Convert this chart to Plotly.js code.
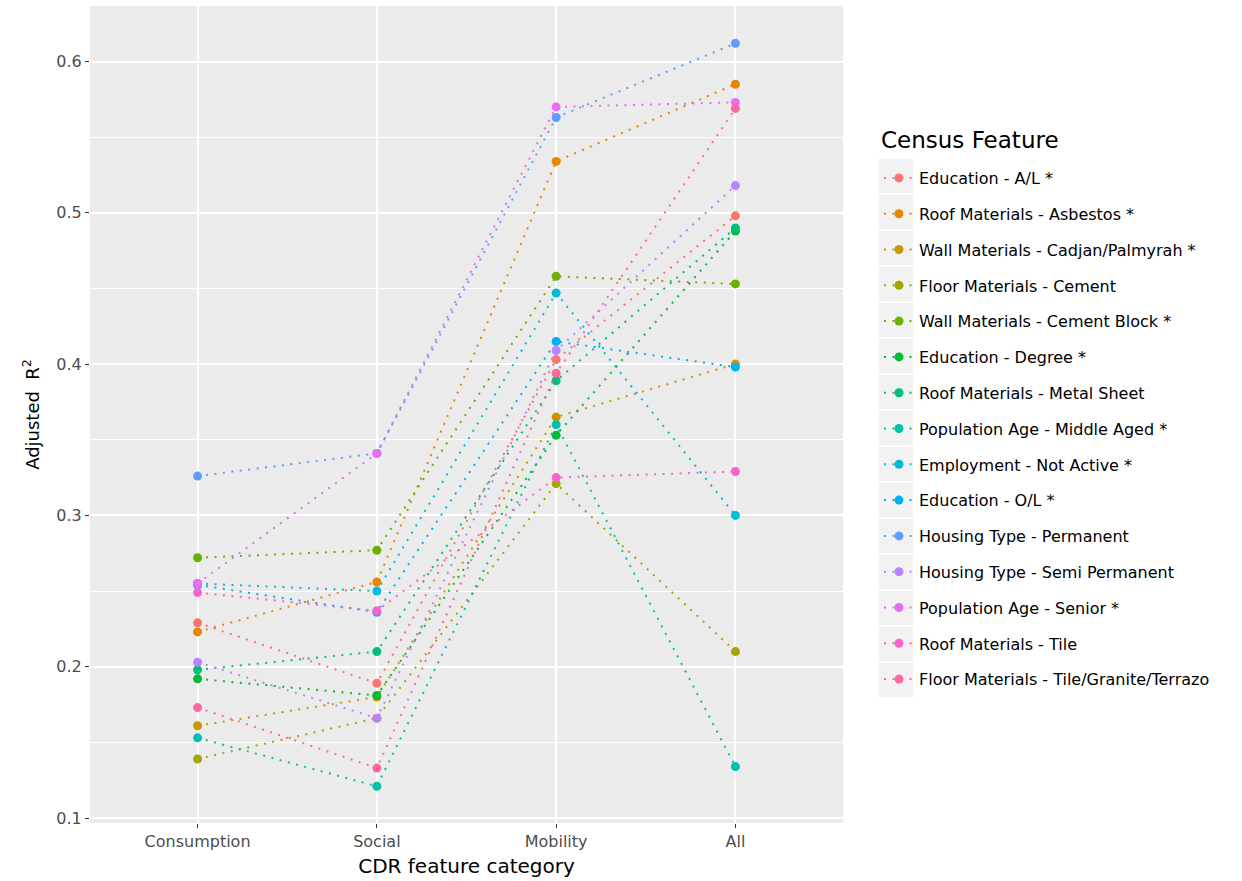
<!DOCTYPE html>
<html>
<head>
<meta charset="utf-8">
<script src="https://cdn.plot.ly/plotly-3.0.1.min.js"></script>
<style>
  html, body { margin: 0; padding: 0; background: #ffffff; }
  #chart { width: 1242px; height: 881px; }
</style>
</head>
<body>
<div id="chart"></div>
<script>
// ---- data ----
const categories = ['Consumption', 'Social', 'Mobility', 'All'];

const featureNames = [
  'Education - A/L *',
  'Roof Materials - Asbestos *',
  'Wall Materials - Cadjan/Palmyrah *',
  'Floor Materials - Cement',
  'Wall Materials - Cement Block *',
  'Education - Degree *',
  'Roof Materials - Metal Sheet',
  'Population Age - Middle Aged *',
  'Employment - Not Active *',
  'Education - O/L *',
  'Housing Type - Permanent',
  'Housing Type - Semi Permanent',
  'Population Age - Senior *',
  'Roof Materials - Tile',
  'Floor Materials - Tile/Granite/Terrazo'
];

const educationAL        = [0.229, 0.189, 0.403, 0.498];
const roofAsbestos       = [0.223, 0.256, 0.534, 0.585];
const wallCadjan         = [0.161, 0.180, 0.365, 0.400];
const floorCement        = [0.139, 0.166, 0.321, 0.210];
const wallCementBlock    = [0.272, 0.277, 0.458, 0.453];
const educationDegree    = [0.192, 0.181, 0.353, 0.488];
const roofMetalSheet     = [0.198, 0.210, 0.389, 0.490];
const ageMiddleAged      = [0.153, 0.121, 0.360, 0.134];
const employNotActive    = [0.255, 0.250, 0.447, 0.300];
const educationOL        = [0.254, 0.236, 0.415, 0.398];
const housingPermanent   = [0.326, 0.341, 0.563, 0.612];
const housingSemiPerm    = [0.203, 0.166, 0.409, 0.518];
const ageSenior          = [0.255, 0.341, 0.570, 0.573];
const roofTile           = [0.249, 0.237, 0.325, 0.329];
const floorTileGranite   = [0.173, 0.133, 0.394, 0.569];

const seriesValues = [
  educationAL, roofAsbestos, wallCadjan, floorCement, wallCementBlock,
  educationDegree, roofMetalSheet, ageMiddleAged, employNotActive, educationOL,
  housingPermanent, housingSemiPerm, ageSenior, roofTile, floorTileGranite
];

const yTickVals = [0.1, 0.2, 0.3, 0.4, 0.5, 0.6];
const legendTitle = 'Census Feature';

// ---- styles ----
const palette = [
  '#F8766D', '#E58700', '#C99800', '#A3A500', '#6BB100',
  '#00BA38', '#00BF7D', '#00C0AF', '#00BCD8', '#00B0F6',
  '#619CFF', '#B983FF', '#E76BF3', '#FD61D1', '#FF67A4'
];

const FONT = 'DejaVu Sans, Arial, sans-serif';

const traces = featureNames.map((name, i) => ({
  type: 'scatter',
  mode: 'lines+markers',
  name: name,
  legendgroup: 'g' + i,
  x: categories,
  y: seriesValues[i],
  line: { color: palette[i], width: 2, dash: '2px,6.5px' },
  marker: { color: palette[i], size: 9, line: { width: 0 } },
  hoverinfo: 'x+y+name'
}));

// grey legend key boxes (layout decoration)
const plotLeft = 90, plotRight = 843, plotTop = 6, plotBottom = 823;
const pw = plotRight - plotLeft, ph = plotBottom - plotTop;
const keyShapes = featureNames.map((_, i) => {
  const cy = 176 + 36 * i;
  return {
    type: 'rect', xref: 'paper', yref: 'paper', layer: 'below',
    x0: (879 - plotLeft) / pw, x1: (913 - plotLeft) / pw,
    y0: (plotBottom - (cy + 17)) / ph, y1: (plotBottom - (cy - 17)) / ph,
    fillcolor: '#F2F2F2', line: { width: 0 }
  };
});

const layout = {
  width: 1242,
  height: 881,
  margin: { l: plotLeft, r: 1242 - plotRight, t: plotTop, b: 881 - plotBottom },
  paper_bgcolor: '#FFFFFF',
  plot_bgcolor: '#EBEBEB',
  font: { family: FONT, color: '#000000' },
  showlegend: true,
  xaxis: {
    type: 'category',
    range: [-0.6, 3.6],
    showgrid: true, gridcolor: '#FFFFFF', gridwidth: 2,
    zeroline: false, showline: false,
    ticks: 'outside', ticklen: 4, tickwidth: 1, tickcolor: '#333333',
    tickfont: { family: FONT, size: 16, color: '#4D4D4D' },
    title: { text: 'CDR feature category', font: { family: FONT, size: 20, color: '#000000' }, standoff: 8 }
  },
  yaxis: {
    range: [0.0967, 0.6367],
    tickmode: 'array', tickvals: yTickVals, ticktext: yTickVals.map(v => v.toFixed(1)),
    showgrid: true, gridcolor: '#FFFFFF', gridwidth: 2,
    minor: { tickmode: 'linear', tick0: 0.05, dtick: 0.1, showgrid: true, gridcolor: '#FFFFFF', gridwidth: 1, ticks: '' },
    zeroline: false, showline: false,
    ticks: 'outside', ticklen: 4, tickwidth: 1, tickcolor: '#333333',
    tickfont: { family: FONT, size: 16, color: '#4D4D4D' },
    title: { text: 'Adjusted  R<sup>2</sup>', font: { family: FONT, size: 18, color: '#000000' }, standoff: 12 }
  },
  legend: {
    x: (879 - plotLeft) / pw, xanchor: 'left',
    y: (plotBottom - 161) / ph, yanchor: 'top',
    bgcolor: 'rgba(0,0,0,0)',
    borderwidth: 0,
    tracegroupgap: 12,
    itemwidth: 30,
    font: { family: FONT, size: 16, color: '#000000' }
  },
  annotations: [{
    text: legendTitle,
    xref: 'paper', yref: 'paper',
    x: (879 - plotLeft) / pw, xanchor: 'left',
    y: (plotBottom - 140) / ph, yanchor: 'middle',
    showarrow: false,
    font: { family: FONT, size: 23, color: '#000000' }
  }],
  shapes: keyShapes
};

Plotly.newPlot('chart', traces, layout, { displayModeBar: false, staticPlot: true });
</script>
</body>
</html>
